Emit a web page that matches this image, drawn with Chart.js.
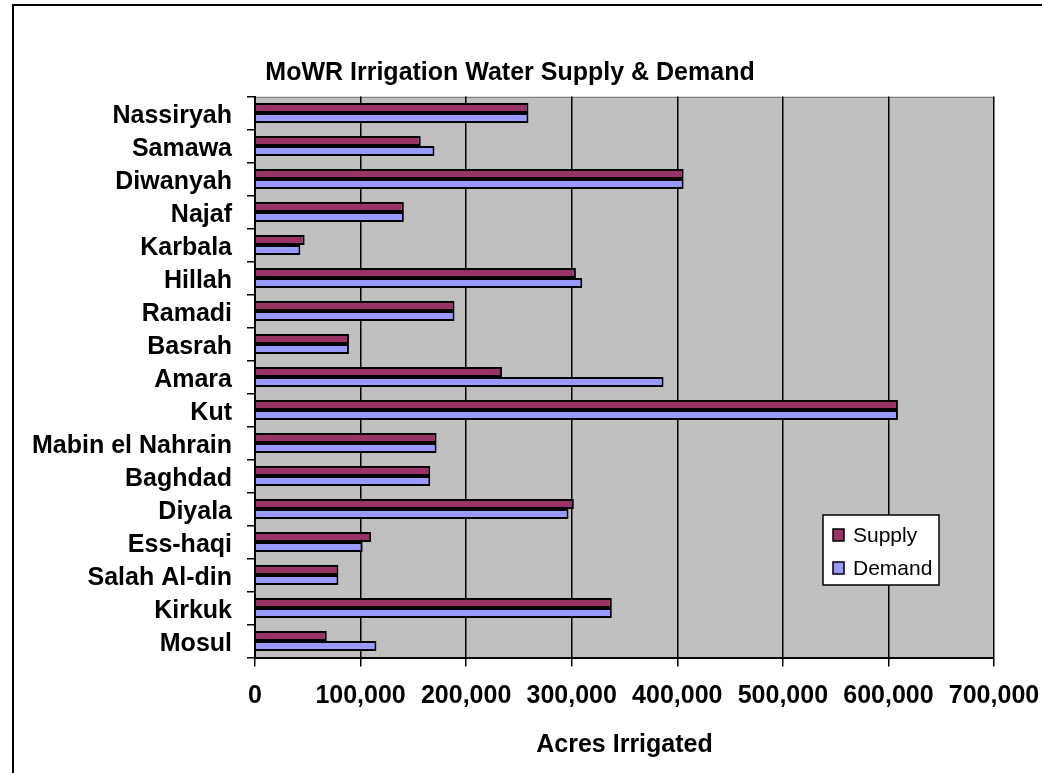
<!DOCTYPE html>
<html>
<head>
<meta charset="utf-8">
<script src="https://cdn.jsdelivr.net/npm/chart.js@4"></script>
<style>
  html, body { margin: 0; padding: 0; background: #fff; overflow: hidden; }
  #frame { position: absolute; left: 12px; top: 4px; width: 1100px; height: 900px; border: 2px solid #000; }
  #myChart { position: absolute; left: 0; top: 0; }
</style>
</head>
<body>
<div id="frame"></div>
<canvas id="myChart" width="1042" height="773"></canvas>
<script>
// data, top to bottom as in the picture
const regions = ["Nassiryah", "Samawa", "Diwanyah", "Najaf", "Karbala", "Hillah", "Ramadi", "Basrah",
  "Amara", "Kut", "Mabin el Nahrain", "Baghdad", "Diyala", "Ess-haqi", "Salah Al-din", "Kirkuk", "Mosul"];
const supply = [259000, 157000, 406000, 141000, 47000, 304000, 189000, 89000,
  234000, 609000, 172000, 166000, 302000, 110000, 79000, 338000, 68000];
const demand = [259000, 170000, 406000, 141000, 43000, 310000, 189000, 89000,
  387000, 609000, 172000, 166000, 297000, 102000, 79000, 338000, 115000];
const xTicks = [0, 100000, 200000, 300000, 400000, 500000, 600000, 700000];

const FONT = "'Liberation Sans', Arial, sans-serif";

// grey plot area behind the bars
const plotBg = {
  id: "plotBg",
  beforeDraw(chart) {
    const { ctx, chartArea: a } = chart;
    ctx.save();
    ctx.fillStyle = "#c0c0c0";
    ctx.fillRect(a.left, a.top, a.right - a.left, a.bottom - a.top);
    ctx.strokeStyle = "#808080";
    ctx.lineWidth = 1;
    ctx.strokeRect(a.left + 0.5, Math.round(a.top) + 0.5, a.right - a.left - 1, a.bottom - a.top - 1);
    ctx.restore();
  },
};

// legend box inside the plot, like the excel one
const boxLegend = {
  id: "boxLegend",
  afterDraw(chart) {
    const ctx = chart.ctx;
    ctx.save();
    ctx.fillStyle = "#fff";
    ctx.fillRect(823, 515, 116, 70);
    ctx.strokeStyle = "#000";
    ctx.lineWidth = 1.5;
    ctx.strokeRect(823, 515, 116, 70);
    ctx.font = "21px " + FONT;
    ctx.textBaseline = "middle";
    chart.data.datasets.forEach((ds, i) => {
      const y = 535 + i * 33;
      ctx.fillStyle = ds.backgroundColor;
      ctx.fillRect(833, y - 6, 11, 12);
      ctx.strokeRect(833, y - 6, 11, 12);
      ctx.fillStyle = "#000";
      ctx.fillText(ds.label, 853, y + 1);
    });
    ctx.restore();
  },
};

new Chart(document.getElementById("myChart"), {
  type: "bar",
  data: {
    labels: regions,
    datasets: [
      { label: "Supply", data: supply, backgroundColor: "#993366" },
      { label: "Demand", data: demand, backgroundColor: "#9999ff" },
    ],
  },
  plugins: [plotBg, boxLegend],
  options: {
    indexAxis: "y",
    responsive: false,
    animation: false,
    layout: { padding: { left: 26, right: 48, top: 0, bottom: 0 } },
    datasets: {
      bar: {
        categoryPercentage: 20 / 33,
        barPercentage: 1,
        borderColor: "#000",
        borderWidth: 2,
      },
    },
    plugins: {
      legend: { display: false },
      tooltip: { enabled: false },
      title: {
        display: true,
        text: "MoWR Irrigation Water Supply & Demand",
        color: "#000",
        font: { family: FONT, size: 25, weight: "bold", lineHeight: 1.2 },
        padding: { top: 58.5, bottom: 8 },
      },
    },
    scales: {
      x: {
        min: 0,
        max: 700000,
        afterBuildTicks(scale) {
          scale.ticks = xTicks.map((v) => ({ value: v }));
        },
        afterFit(scale) {
          scale.height = 115.5;
          scale.paddingLeft = 0;
          scale.paddingRight = 0;
        },
        grid: { color: "#000", lineWidth: 1.5, tickLength: 9, tickColor: "#000" },
        border: { display: true, color: "#000", width: 2 },
        ticks: {
          color: "#000",
          padding: 15,
          maxRotation: 0,
          font: { family: FONT, size: 25, weight: "bold" },
          callback: (v) => v.toLocaleString("en-US"),
        },
        title: {
          display: true,
          text: "Acres Irrigated",
          color: "#000",
          font: { family: FONT, size: 25, weight: "bold", lineHeight: 1.2 },
          padding: { top: 0, bottom: 13 },
        },
      },
      y: {
        afterFit(scale) {
          scale.width = 229;
          scale.paddingTop = 0;
          scale.paddingBottom = 0;
        },
        grid: { offset: true, drawOnChartArea: false, color: "#000", tickLength: 8, lineWidth: 1.5 },
        border: { display: true, color: "#000", width: 2 },
        ticks: {
          color: "#000",
          padding: 15,
          labelOffset: 3,
          autoSkip: false,
          font: { family: FONT, size: 25, weight: "bold" },
        },
      },
    },
  },
});
</script>
</body>
</html>
